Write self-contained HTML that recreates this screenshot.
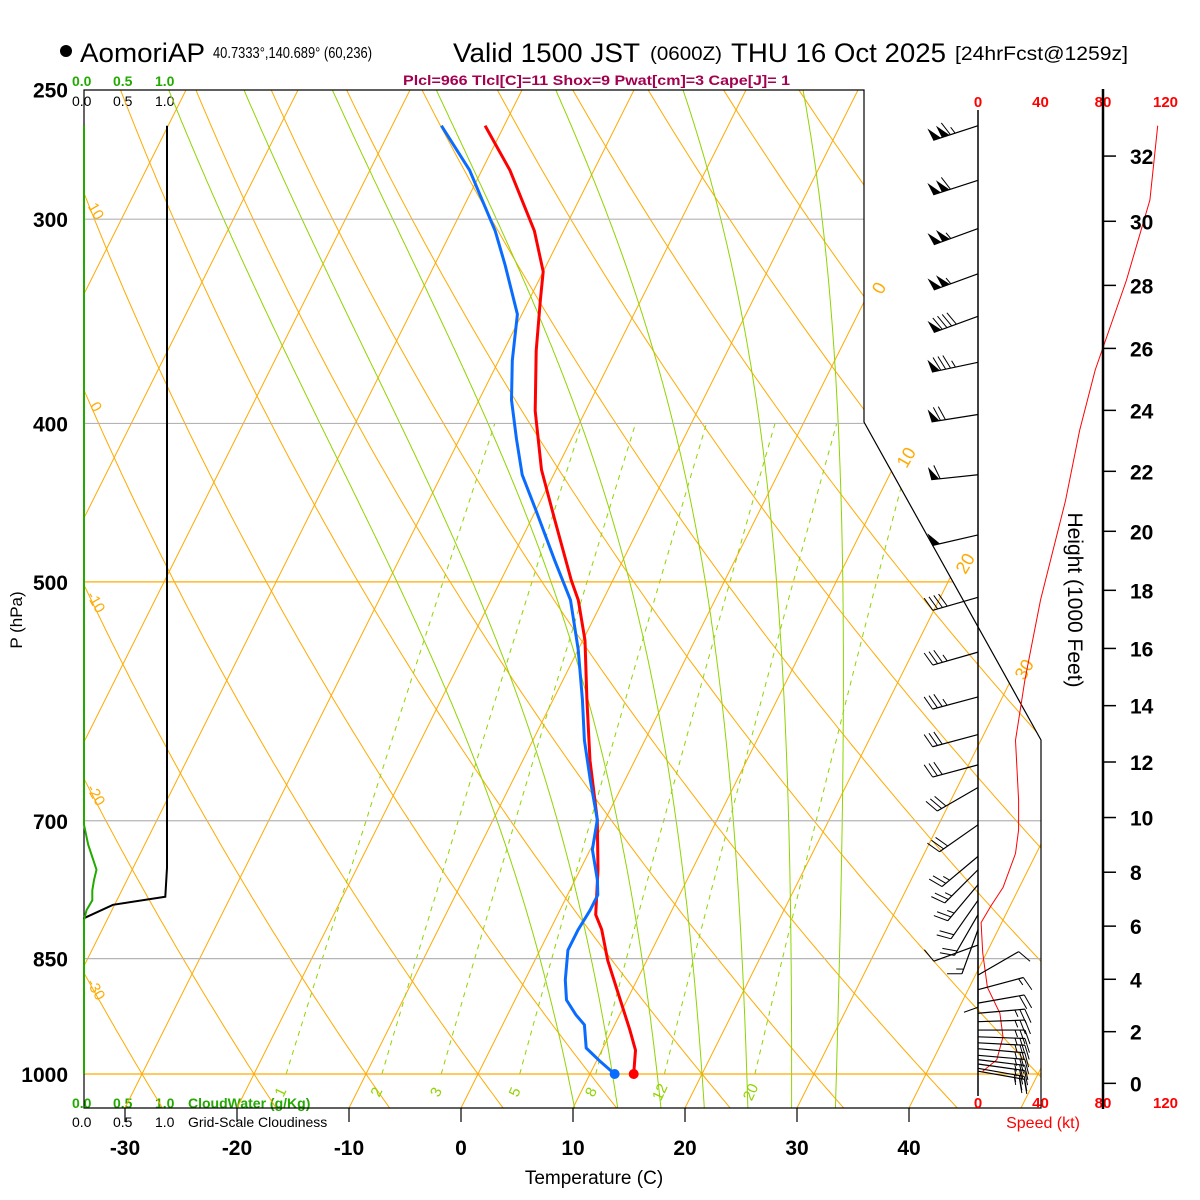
<!DOCTYPE html>
<html><head><meta charset="utf-8"><title>Skew-T AomoriAP</title>
<style>
html,body{margin:0;padding:0;background:#fff;}
svg{display:block;font-family:"Liberation Sans",Arial,sans-serif;}
</style></head>
<body>
<svg id="chart" xmlns="http://www.w3.org/2000/svg" width="1200" height="1200" viewBox="0 0 1200 1200">
<rect x="0" y="0" width="1200" height="1200" fill="#fff"/>
<defs><clipPath id="plotclip"><polygon points="84,90 864,90 864,422 1041,740 1041,1108 84,1108"/></clipPath></defs>
<g>
<circle cx="66" cy="51" r="6" fill="#000"/>
<text x="80" y="62" font-size="27" textLength="125" lengthAdjust="spacingAndGlyphs">AomoriAP</text>
<text x="213" y="58" font-size="16" textLength="159" lengthAdjust="spacingAndGlyphs">40.7333°,140.689° (60,236)</text>
<text x="453" y="62" font-size="27" textLength="187" lengthAdjust="spacingAndGlyphs">Valid 1500 JST</text>
<text x="650" y="60" font-size="19" textLength="72" lengthAdjust="spacingAndGlyphs">(0600Z)</text>
<text x="731" y="62" font-size="27" textLength="215" lengthAdjust="spacingAndGlyphs">THU 16 Oct 2025</text>
<text x="955" y="60" font-size="19" textLength="173" lengthAdjust="spacingAndGlyphs">[24hrFcst@1259z]</text>
<text x="403" y="85" font-size="14" font-weight="bold" fill="#a3004f" textLength="387" lengthAdjust="spacingAndGlyphs">Plcl=966 Tlcl[C]=11 Shox=9 Pwat[cm]=3 Cape[J]= 1</text>
</g>
<g font-size="14" font-weight="bold">
<text x="72" y="86" fill="#22aa00">0.0</text>
<text x="113" y="86" fill="#22aa00">0.5</text>
<text x="155" y="86" fill="#22aa00">1.0</text>
<text x="72" y="106" fill="#000" font-weight="normal">0.0</text>
<text x="113" y="106" fill="#000" font-weight="normal">0.5</text>
<text x="155" y="106" fill="#000" font-weight="normal">1.0</text>
<text x="72" y="1108" fill="#22aa00">0.0</text>
<text x="113" y="1108" fill="#22aa00">0.5</text>
<text x="155" y="1108" fill="#22aa00">1.0</text>
<text x="188" y="1108" fill="#22aa00">CloudWater (g/Kg)</text>
<text x="72" y="1127" fill="#000" font-weight="normal">0.0</text>
<text x="113" y="1127" fill="#000" font-weight="normal">0.5</text>
<text x="155" y="1127" fill="#000" font-weight="normal">1.0</text>
<text x="188" y="1127" fill="#000" font-weight="normal">Grid-Scale Cloudiness</text>
</g>
<text x="22" y="620" font-size="17" text-anchor="middle" transform="rotate(-90 22 620)">P (hPa)</text>
<text x="594" y="1184" font-size="19" text-anchor="middle">Temperature (C)</text>
<text x="1043" y="1128" font-size="16" fill="#ff0000" text-anchor="middle">Speed (kt)</text>
<text x="1068" y="600" font-size="21" text-anchor="middle" transform="rotate(90 1068 600)">Height (1000 Feet)</text>
<g id="bg" clip-path="url(#plotclip)"></g>
<g id="fg"></g>
</svg>
<script>
// ---- data ----
const profileTempP = [263,280,305,323,336,361,393,427,458,499,513,543,590,643,699,750,799,816,852,901,940,967,1000];
const profileTempC = [-41.7,-37.5,-32.6,-30.0,-29.0,-27.1,-24.5,-21.3,-17.9,-13.7,-12.2,-9.8,-7.0,-4.0,-0.7,1.6,3.4,4.6,6.5,9.4,11.6,13.0,13.9];
const profileDewP = [263,280,305,320,343,366,387,409,430,452,485,513,550,590,625,661,699,729,761,777,794,816,840,876,901,920,933,964,983,1000];
const profileDewC = [-45.6,-41.1,-36.1,-33.7,-30.4,-28.8,-27.1,-24.9,-22.8,-20.0,-16.1,-12.9,-10.0,-7.4,-5.4,-3.1,-0.7,0.2,2.0,2.7,2.7,2.5,2.5,3.6,4.6,6.1,7.3,8.5,10.4,12.2];
const speedProfileP = [263,292,327,371,404,446,513,574,625,680,709,733,769,790,808,843,885,918,949,980,996];
const speedProfileKt = [115,110,95,75,65,56,40,30,24,26,26,24,16,8,2,3,6,14,16,12,3];
const barbP = [263,284,304,324,344,367,395,430,468,511,552,588,620,647,668,704,736,750,766,783,799,816,834,852,870,888,905,918,929,940,949,957,965,974,980,986,992,996];
const barbDir = [252,252,250,250,250,258,261,264,257,254,254,255,255,255,240,235,230,225,220,215,210,200,250,180,60,75,80,85,88,90,92,93,95,95,97,98,100,100];
const barbKt = [115,110,105,105,90,85,70,60,50,40,35,35,30,30,30,30,25,25,25,20,20,15,10,10,10,15,20,25,25,25,25,25,25,25,25,25,25,25];
const cloudP = [263,748,779,788,803,1000];
const cloudFrac = [1.0,1.0,0.98,0.35,0.0,0.0];
const cwP = [263,704,724,750,761,772,783,794,805,1000];
const cwVal = [0,0,0.05,0.15,0.12,0.1,0.1,0.03,0,0];
const pressureLevels = [250,300,400,500,700,850,1000];
const tempTicks = [-30,-20,-10,0,10,20,30,40];
const heightTicks = [0,2,4,6,8,10,12,14,16,18,20,22,24,26,28,30,32];
const speedTicks = [0,40,80,120];
const mixRatios = [1,2,3,5,8,12,20];
const moistThetaW = [8,12,16,20,24,28,32];
const dryTheta = [-40,-30,-20,-10,0,10,20,30,40,50,60,70,80,90,100,110,120,130,140,150,160,170,180,190,200];
const isoTemps = [-140,-130,-120,-110,-100,-90,-80,-70,-60,-50,-40,-30,-20,-10,0,10,20,30,40,50,60];
const isoLabels = [0,10,20,30];
const dryLabels = [10,0,-10,-20,-30];

// ---- scales ----
const NS = "http://www.w3.org/2000/svg";
const ORANGE = "#ffaa00", GREEN = "#8fd400";
function yP(p){ return 1074 - 710*Math.log(1000/p); }
function xT(T,y){ return 461 + 11.2*T + 0.5*(1108 - y); }
function xSpd(k){ return 978 + 1.5625*k; }
function xCloud(c){ return 84 + 83*c; }
function xCW(c){ return 84 + 83*c; }
function hToP(hft){ return 1013.25*Math.pow(1 - 6.8756e-6*hft, 5.2559); }
function es(T){ return 6.112*Math.exp(17.67*T/(T+243.5)); }
function el(tag, attrs, parent){
  const e = document.createElementNS(NS, tag);
  for (const k in attrs) e.setAttribute(k, attrs[k]);
  parent.appendChild(e);
  return e;
}
function pts(arr){ return arr.map(a => a[0].toFixed(1)+","+a[1].toFixed(1)).join(" "); }
const bg = document.getElementById('bg');
const fg = document.getElementById('fg');

// isotherms
isoTemps.forEach(T => {
  const l = el('line', {x1:xT(T,1108), y1:1108, x2:xT(T,90), y2:90, stroke:ORANGE, 'stroke-width':1}, bg);
  
  
});
// dry adiabats
dryTheta.forEach(th => {
  const a = [];
  for (let p = 1060; p >= 245; p -= 5) { const y = yP(p); a.push([xT((th+273.15)*Math.pow(p/1000,0.2857)-273.15, y), y]); }
  const l = el('polyline', {points:pts(a), fill:'none', stroke:ORANGE, 'stroke-width':1}, bg);
  
  
});
// moist adiabats
function moistStep(T, p, dp){
  const Tk = T + 273.15, e = es(T), rs = 0.622*e/(p-e);
  const Rd = 287.04, Lv = 2.5e6, cp = 1005.7;
  const dTdp = (Rd*Tk + Lv*rs)/(p*(cp + Lv*Lv*rs*0.622/(Rd*Tk*Tk)));
  return T + dTdp*dp;
}
moistThetaW.forEach(tw => {
  const up = []; let T = tw;
  for (let p = 1000; p >= 245; p -= 1) { up.push([xT(T,yP(p)), yP(p)]); T = moistStep(T, p, -1); }
  const dn = []; T = tw;
  for (let p = 1000; p <= 1060; p += 1) { dn.push([xT(T,yP(p)), yP(p)]); T = moistStep(T, p, 1); }
  const a = dn.reverse().concat(up);
  const l = el('polyline', {points:pts(a), fill:'none', stroke:GREEN, 'stroke-width':1}, bg);
  
  
});
// mixing ratio lines
function tdFromW(w, p){ const e = w*p/(622+w); const L = Math.log(e/6.112); return 243.5*L/(17.67-L); }
mixRatios.forEach(w => {
  const a = [];
  for (let p = 1000; p >= 400; p -= 10) { const y = yP(p); a.push([xT(tdFromW(w,p), y), y]); }
  const l = el('polyline', {points:pts(a), fill:'none', stroke:GREEN, 'stroke-width':1, 'stroke-dasharray':'5,5'}, bg);
  
  
  const yl = 1092, xl = xT(tdFromW(w, 1000*Math.exp((yl-1074)/710)), yl);
  const t = el('text', {x:xl, y:yl+5, 'font-size':15, fill:GREEN, 'text-anchor':'middle', transform:`rotate(-65 ${xl} ${yl})`}, fg);
  t.textContent = String(w);
  
  
});
// pressure lines
pressureLevels.forEach(p => {
  if (p === 250) return;
  const y = yP(p);
  const col = (p === 500 || p === 1000) ? ORANGE : '#b4b4b4';
  const l = el('line', {x1:84, y1:y, x2:1041, y2:y, stroke:col, 'stroke-width':1.2}, bg);
  
  
});

// plot frame
const frame = el('polygon', {points:'84,90 864,90 864,422 1041,740 1041,1108 84,1108', fill:'none', stroke:'#000', 'stroke-width':1.2}, fg);



// isotherm labels
function isoBoundary(T){
  for (let y = 90; y <= 1108; y += 0.5) {
    const x = xT(T,y);
    let bx;
    if (y <= 422) bx = 864; else if (y <= 740) bx = 864 + 177*(y-422)/318; else bx = 1041;
    if (x <= bx) return [x,y];
  }
  return null;
}
isoLabels.forEach(T => {
  const b = isoBoundary(T); if (!b) return;
  const cx = b[0]+15, cy = b[1]-14;
  const t = el('text', {x:cx, y:cy+6, 'font-size':18, fill:ORANGE, 'text-anchor':'middle', transform:`rotate(-60 ${cx} ${cy})`}, fg);
  t.textContent = String(T);
  
  
});
// dry adiabat labels
dryLabels.forEach(th => {
  let yc = null;
  for (let p = 250; p <= 1060; p += 1) {
    const y = yP(p), x = xT((th+273.15)*Math.pow(p/1000,0.2857)-273.15, y);
    if (x >= 84) { yc = y; break; }
  }
  if (yc === null) return;
  const cx = 96, cy = yc + 16;
  const t = el('text', {x:cx, y:cy+5, 'font-size':15, fill:ORANGE, 'text-anchor':'middle', transform:`rotate(60 ${cx} ${cy})`}, fg);
  t.textContent = String(th);
  
  
});

// pressure labels
pressureLevels.forEach(p => {
  const t = el('text', {x:68, y:yP(p)+8, 'font-size':21, 'font-weight':'bold', 'text-anchor':'end'}, fg);
  t.textContent = String(p);
  
  
});
// temperature axis
tempTicks.forEach(T => {
  const x = xT(T,1108);
  const tk = el('line', {x1:x, y1:1108, x2:x, y2:1122, stroke:'#000', 'stroke-width':1.2}, fg);
  
  
  const t = el('text', {x:x, y:1155, 'font-size':21, 'font-weight':'bold', 'text-anchor':'middle'}, fg);
  t.textContent = String(T);
  
  
});

// cloudiness & cloud water
const cl = el('polyline', {points:pts(cloudP.map((p,i)=>[xCloud(cloudFrac[i]), yP(p)]).filter(a=>a[1]<=1074)), fill:'none', stroke:'#000', 'stroke-width':2}, fg);


const cw = el('polyline', {points:pts(cwP.map((p,i)=>[xCW(cwVal[i]), yP(p)])), fill:'none', stroke:'#22aa00', 'stroke-width':2}, fg);



// profiles
const tl = el('polyline', {points:pts(profileTempP.map((p,i)=>[xT(profileTempC[i],yP(p)), yP(p)])), fill:'none', stroke:'#ff0000', 'stroke-width':3, 'stroke-linejoin':'round'}, fg);


const dl = el('polyline', {points:pts(profileDewP.map((p,i)=>[xT(profileDewC[i],yP(p)), yP(p)])), fill:'none', stroke:'#0a6cff', 'stroke-width':3, 'stroke-linejoin':'round'}, fg);


const nT = profileTempP.length - 1, nD = profileDewP.length - 1;
const td = el('circle', {cx:xT(profileTempC[nT], yP(profileTempP[nT])), cy:yP(profileTempP[nT]), r:5, fill:'#ff0000'}, fg);


const dd = el('circle', {cx:xT(profileDewC[nD], yP(profileDewP[nD])), cy:yP(profileDewP[nD]), r:5, fill:'#0a6cff'}, fg);



// wind panel axis
const wa = el('line', {x1:978, y1:110, x2:978, y2:1096, stroke:'#000', 'stroke-width':1.5}, fg);


speedTicks.forEach(k => {
  [107, 1108].forEach(yy => {
    const t = el('text', {x:xSpd(k), y:yy, 'font-size':15, 'font-weight':'bold', fill:'#ff0000', 'text-anchor':'middle'}, fg);
    t.textContent = String(k);
    
    
  });
});
const sp = el('polyline', {points:pts(speedProfileP.map((p,i)=>[xSpd(speedProfileKt[i]), yP(p)])), fill:'none', stroke:'#ff0000', 'stroke-width':1}, fg);



// wind barbs
barbP.forEach((p,i) => {
  const bx = 978, by = yP(p), d = barbDir[i]*Math.PI/180;
  const ux = Math.sin(d), uy = -Math.cos(d), px = -uy, py = ux, L = 47;
  const g = el('g', {}, fg);
  
  
  el('line', {x1:bx, y1:by, x2:bx+ux*L, y2:by+uy*L, stroke:'#000', 'stroke-width':1.2}, g);
  let s = Math.round(barbKt[i]/5)*5, pos = L;
  while (s >= 50) {
    const ax = bx+ux*pos, ay = by+uy*pos, cx2 = bx+ux*(pos-8), cy2 = by+uy*(pos-8);
    el('polygon', {points:`${ax},${ay} ${ax+px*13+ux*2},${ay+py*13+uy*2} ${cx2},${cy2}`, fill:'#000'}, g);
    pos -= 9; s -= 50;
  }
  while (s >= 10) {
    const ax = bx+ux*pos, ay = by+uy*pos;
    el('line', {x1:ax, y1:ay, x2:ax+px*14+ux*5, y2:ay+py*14+uy*5, stroke:'#000', 'stroke-width':1}, g);
    pos -= 5; s -= 10;
  }
  if (s >= 5) {
    const ax = bx+ux*pos, ay = by+uy*pos;
    el('line', {x1:ax, y1:ay, x2:ax+px*7+ux*2.5, y2:ay+py*7+uy*2.5, stroke:'#000', 'stroke-width':1}, g);
  }
});

// height axis
const ha = el('line', {x1:1103, y1:89, x2:1103, y2:1109, stroke:'#000', 'stroke-width':2.5}, fg);


heightTicks.forEach(h => {
  const y = yP(hToP(h*1000));
  const tk = el('line', {x1:1103, y1:y, x2:1116, y2:y, stroke:'#000', 'stroke-width':1.5}, fg);
  
  
  const t = el('text', {x:1130, y:y+8, 'font-size':21, 'font-weight':'bold'}, fg);
  t.textContent = String(h);
  
  
});
</script>
</body></html>
